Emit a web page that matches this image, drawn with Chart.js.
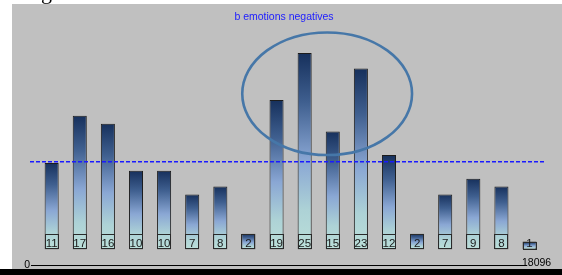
<!DOCTYPE html>
<html>
<head>
<meta charset="utf-8">
<script src="https://cdn.jsdelivr.net/npm/chart.js@4/dist/chart.umd.min.js"></script>
<style>
  html, body { margin: 0; padding: 0; background: #fff; }
  canvas { display: block; }
</style>
</head>
<body>
<canvas id="emoChart" width="562" height="275"></canvas>
<script>
// ---- data ----
const categories = ['1', '2', '3', '4', '5', '6', '7', '8', '9', '10', '11', '12', '13', '14', '15', '16', '17', '18'];
const values = [11, 17, 16, 10, 10, 7, 8, 2, 19, 25, 15, 23, 12, 2, 7, 9, 8, 1];
const axisLabels = ['0', '18096'];
const titleText = 'b emotions negatives';
// circled group (in category index / value units)
const highlight = { index: 9.8, value: 19.8, spanIndex: 3.02, spanValue: 7.8 };

const mean = values.reduce((a, b) => a + b, 0) / values.length;

function barGradient(context) {
  const chart = context.chart;
  if (!chart.chartArea || context.raw === undefined) return '#86a3d2';
  const ys = chart.scales.y;
  const top = ys.getPixelForValue(context.raw);
  const bottom = ys.getPixelForValue(0);
  const g = chart.ctx.createLinearGradient(0, top, 0, bottom);
  g.addColorStop(0, '#16305c');
  g.addColorStop(0.25, '#3f5f8f');
  g.addColorStop(0.55, '#8aa7d4');
  g.addColorStop(0.8, '#add2d6');
  g.addColorStop(1, '#bbdfd9');
  return g;
}

// background panel, title, labels, mean line, ellipse, axis
const decorations = {
  id: 'decorations',
  beforeDraw(chart) {
    const ctx = chart.ctx;
    ctx.save();
    ctx.fillStyle = '#ffffff';
    ctx.fillRect(0, 0, chart.width, chart.height);
    ctx.fillStyle = '#c0c0c0';
    ctx.fillRect(12, 4, chart.width - 12, 265);
    ctx.fillStyle = '#000000';
    ctx.fillRect(0, 269, chart.width, 6);
    // cut-off caption above the panel
    ctx.beginPath();
    ctx.rect(0, 0, chart.width, 4);
    ctx.clip();
    ctx.font = '22px "Liberation Serif"';
    ctx.fillStyle = '#000';
    ctx.textBaseline = 'alphabetic';
    ctx.fillText('g', 41, -1);
    ctx.restore();

    ctx.save();
    ctx.font = '10.5px "Liberation Sans"';
    ctx.fillStyle = '#1c1cff';
    ctx.textAlign = 'center';
    ctx.textBaseline = 'middle';
    ctx.fillText(titleText, 284, 17);
    ctx.restore();
  },
  afterDatasetsDraw(chart) {
    const ctx = chart.ctx;
    const xs = chart.scales.x, ys = chart.scales.y;
    const meta = chart.getDatasetMeta(0);
    const base = ys.getPixelForValue(0) - 1;

    // value boxes at the foot of each bar
    ctx.save();
    ctx.font = '11.5px "Liberation Sans"';
    ctx.textAlign = 'center';
    ctx.textBaseline = 'alphabetic';
    meta.data.forEach((bar, i) => {
      const w = bar.width;
      const top = Math.max(bar.y, base - 14);
      ctx.strokeStyle = '#2a2a2a';
      ctx.lineWidth = 1;
      ctx.strokeRect(Math.round(bar.x - w / 2) + 0.5, Math.round(top) + 0.5, Math.round(w) - 1, Math.round(base - top));
      ctx.fillStyle = '#1a1a1a';
      ctx.fillText(String(values[i]), bar.x, base - 1);
    });
    ctx.restore();

    // mean line
    const my = Math.round(ys.getPixelForValue(mean));
    ctx.save();
    ctx.fillStyle = '#1a1aff';
    for (let x = 30; x < 546; x += 6) {
      ctx.fillRect(x, my, Math.min(4, 546 - x), 1.5);
    }
    ctx.restore();

    // ellipse around the high group
    const step = xs.getPixelForValue(1) - xs.getPixelForValue(0);
    const cx = xs.getPixelForValue(highlight.index);
    const cy = ys.getPixelForValue(highlight.value);
    const rx = highlight.spanIndex * step;
    const ry = ys.getPixelForValue(0) - ys.getPixelForValue(highlight.spanValue);
    ctx.save();
    ctx.strokeStyle = '#4677a8';
    ctx.lineWidth = 2.6;
    ctx.beginPath();
    ctx.ellipse(cx, cy, rx, ry, 0, 0, Math.PI * 2);
    ctx.stroke();
    ctx.restore();

    // bottom axis
    ctx.save();
    ctx.strokeStyle = '#000';
    ctx.lineWidth = 1;
    ctx.beginPath();
    ctx.moveTo(31, 265.5);
    ctx.lineTo(527, 265.5);
    ctx.stroke();
    ctx.font = '10.5px "Liberation Sans"';
    ctx.fillStyle = '#000';
    ctx.textBaseline = 'middle';
    ctx.textAlign = 'right';
    ctx.fillText(axisLabels[0], 30, 265);
    ctx.textAlign = 'left';
    ctx.fillText(axisLabels[1], 522, 263);
    ctx.restore();
  }
};

new Chart(document.getElementById('emoChart'), {
  type: 'bar',
  data: {
    labels: categories,
    datasets: [{
      data: values,
      backgroundColor: barGradient,
      borderColor: '#1c1c1c',
      borderWidth: 1,
      borderSkipped: false,
      barPercentage: 0.5,
      categoryPercentage: 1
    }]
  },
  options: {
    responsive: false,
    animation: false,
    events: [],
    layout: { padding: { left: 37.6, right: 18.4, top: 29.3, bottom: 25.6 } },
    plugins: {
      legend: { display: false },
      tooltip: { enabled: false },
      title: { display: false }
    },
    scales: {
      x: { display: false },
      y: { display: false, min: 0, max: 28 }
    }
  },
  plugins: [decorations]
});
</script>
</body>
</html>
